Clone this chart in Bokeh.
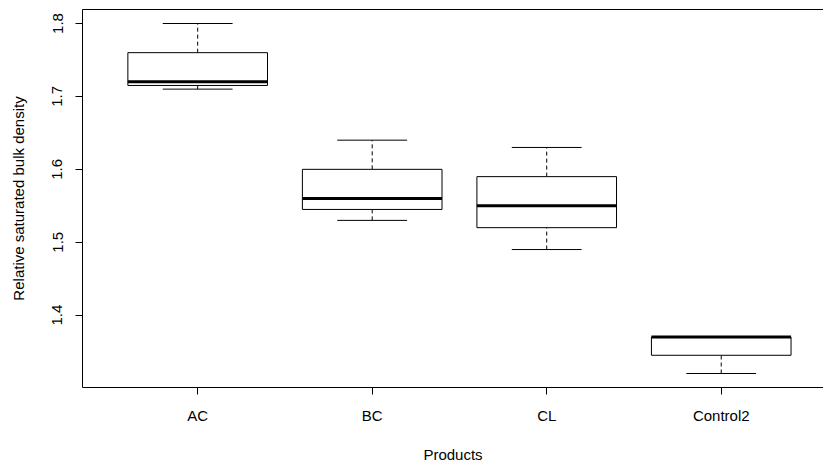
from bokeh.plotting import figure
from bokeh.models import Range1d, FixedTicker, LinearAxis
from bokeh.embed import file_html
from bokeh.resources import INLINE

# Data
categories = ["AC", "BC", "CL", "Control2"]
whisker_low = [1.71, 1.53, 1.49, 1.32]
q1 = [1.715, 1.545, 1.52, 1.345]
median = [1.72, 1.56, 1.55, 1.37]
q3 = [1.76, 1.60, 1.59, 1.37]
whisker_high = [1.80, 1.64, 1.63, 1.37]
y_ticks = [1.4, 1.5, 1.6, 1.7, 1.8]

positions = list(range(1, len(categories) + 1))
half_box = 0.4
half_cap = 0.2

all_vals = whisker_low + whisker_high
lo, hi = min(all_vals), max(all_vals)
pad = (hi - lo) * 0.04

FONT = "Liberation Sans"

p = figure(width=823, height=466, output_backend="svg", toolbar_location=None,
           x_range=Range1d(0.34, 4.586), y_range=Range1d(lo - pad, hi + pad),
           min_border_left=82, min_border_right=0, min_border_top=9, min_border_bottom=79)

p.xgrid.visible = False
p.ygrid.visible = False
p.background_fill_color = "white"
p.border_fill_color = "white"
p.outline_line_color = None

# whiskers (dashed)
p.segment(x0=positions, y0=q3, x1=positions, y1=whisker_high,
          line_color="black", line_width=1, line_dash="4 3")
p.segment(x0=positions, y0=whisker_low, x1=positions, y1=q1,
          line_color="black", line_width=1, line_dash="4 3")
# caps
p.segment(x0=[x - half_cap for x in positions], y0=whisker_high,
          x1=[x + half_cap for x in positions], y1=whisker_high,
          line_color="black", line_width=1)
p.segment(x0=[x - half_cap for x in positions], y0=whisker_low,
          x1=[x + half_cap for x in positions], y1=whisker_low,
          line_color="black", line_width=1)
# boxes
p.quad(left=[x - half_box for x in positions], right=[x + half_box for x in positions],
       bottom=q1, top=q3, fill_color="white", line_color="black", line_width=1)
# medians
p.segment(x0=[x - half_box for x in positions], y0=median,
          x1=[x + half_box for x in positions], y1=median,
          line_color="black", line_width=3)

# axes
xa = p.xaxis[0]
xa.ticker = FixedTicker(ticks=positions)
xa.major_label_overrides = {x: c for x, c in zip(positions, categories)}
ya = p.yaxis[0]
ya.ticker = FixedTicker(ticks=y_ticks)
ya.major_label_orientation = "vertical"

for ax in (xa, ya):
    ax.axis_line_color = "black"
    ax.axis_line_width = 1
    ax.major_tick_in = 0
    ax.major_tick_out = 7
    ax.major_tick_line_color = "black"
    ax.minor_tick_line_color = None
    ax.major_label_text_font = FONT
    ax.major_label_text_font_size = "15px"
    ax.major_label_text_color = "black"
    ax.axis_label_text_font = FONT
    ax.axis_label_text_font_size = "15px"
    ax.axis_label_text_font_style = "normal"
    ax.axis_label_text_color = "black"

xa.axis_label = "Products"
ya.axis_label = "Relative saturated bulk density"
xa.major_label_standoff = 12
xa.axis_label_standoff = 19
ya.major_label_standoff = 13
ya.axis_label_standoff = 23

# top border of the plotting box (frame continues past the right edge, as in the reference)
top = LinearAxis(ticker=FixedTicker(ticks=[]), axis_line_color="black", axis_line_width=1,
                 major_tick_line_color=None, minor_tick_line_color=None,
                 major_label_text_font_size="0px", major_label_standoff=0)
p.add_layout(top, "above")

open("out.html", "w").write(file_html(p, INLINE))
